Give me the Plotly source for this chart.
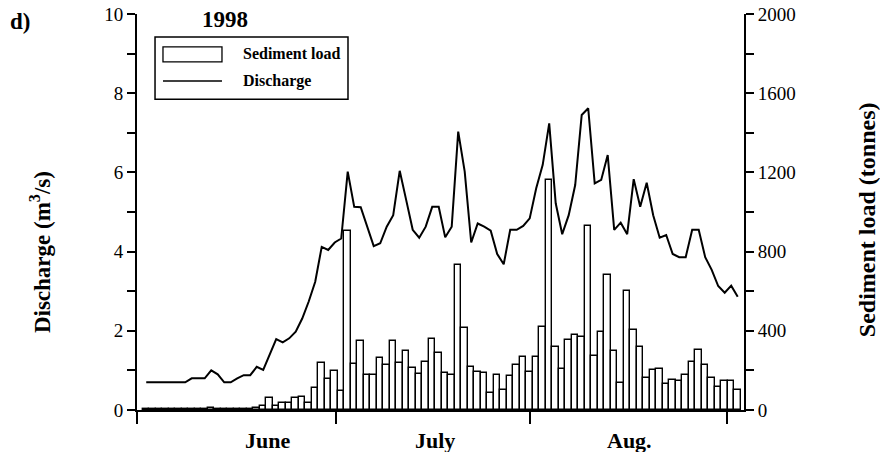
import plotly.graph_objects as go

# Day index (daily values, summer 1998)
days = list(range(92))

discharge = [0.70, 0.70, 0.70, 0.70, 0.70, 0.70, 0.70, 0.80, 0.80, 0.80,
             1.00, 0.90, 0.70, 0.70, 0.80, 0.88, 0.88, 1.09, 1.01, 1.39,
             1.79, 1.71, 1.81, 1.98, 2.31, 2.74, 3.24, 4.12, 4.04, 4.23,
             4.33, 6.02, 5.13, 5.12, 4.63, 4.14, 4.21, 4.63, 4.92, 6.04,
             5.30, 4.55, 4.35, 4.63, 5.13, 5.13, 4.36, 4.63, 7.03, 6.02,
             4.23, 4.71, 4.63, 4.53, 3.94, 3.68, 4.55, 4.55, 4.65, 4.84,
             5.60, 6.19, 7.24, 5.22, 4.44, 4.92, 5.68, 7.45, 7.62, 5.72,
             5.81, 6.44, 4.55, 4.73, 4.44, 5.83, 5.13, 5.74, 4.92, 4.35,
             4.42, 3.94, 3.86, 3.86, 4.55, 4.55, 3.86, 3.54, 3.13, 2.96,
             3.14, 2.86]

sediment = [4, 4, 4, 4, 4, 4, 4, 4, 4, 4,
            8, 4, 4, 4, 4, 4, 7, 9, 22, 59,
            20, 34, 34, 62, 67, 37, 109, 239, 157, 197,
            95, 902, 231, 349, 177, 177, 261, 227, 350, 239,
            296, 210, 182, 240, 358, 286, 185, 177, 732, 416,
            219, 190, 185, 88, 177, 101, 172, 227, 269, 194,
            269, 417, 1163, 320, 205, 354, 379, 367, 928, 273,
            396, 682, 300, 138, 603, 404, 320, 164, 204, 208,
            133, 152, 147, 175, 241, 305, 227, 160, 117, 146,
            146, 101]

month_labels = ["June", "July", "Aug."]
month_label_x = [18.6, 44.5, 74.3]
month_tick_x = [-1.38, 29.12, 59.08, 89.42]

FONT = "Liberation Serif"

fig = go.Figure()
fig.add_trace(go.Bar(
    x=days, y=sediment, yaxis="y", width=1.0,
    marker=dict(color="white", line=dict(color="black", width=1.4)),
    name="Sediment load", showlegend=False, hoverinfo="skip"))
fig.add_trace(go.Scatter(
    x=days, y=discharge, yaxis="y2", mode="lines",
    line=dict(color="black", width=2),
    name="Discharge", showlegend=False, hoverinfo="skip"))

axis_common = dict(showgrid=False, zeroline=False, showline=True,
                   linecolor="black", linewidth=2, ticks="outside",
                   tickcolor="black", tickwidth=1.5, automargin=False,
                   ticklabeloverflow="allow",
                   tickfont=dict(family=FONT, size=19, color="black"))

fig.update_layout(
    template="none",
    width=880, height=452,
    margin=dict(l=137, r=136, t=14, b=42, pad=0),
    paper_bgcolor="white", plot_bgcolor="white",
    bargap=0,
    xaxis=dict(range=[-1.42, 91.97], tickmode="array", tickvals=month_tick_x,
               showticklabels=False, ticklen=12, **axis_common),
    yaxis=dict(side="right", range=[0, 2000], tickmode="array",
               tickvals=[0, 400, 800, 1200, 1600, 2000], ticklen=8,
               minor=dict(ticks="outside", ticklen=8, dtick=200, tick0=0,
                          tickcolor="black", tickwidth=1.5),
               **axis_common),
    yaxis2=dict(side="left", overlaying="y", range=[0, 10], tickmode="array",
                tickvals=[0, 2, 4, 6, 8, 10], ticklen=8,
                minor=dict(ticks="outside", ticklen=8, dtick=1, tick0=0,
                           tickcolor="black", tickwidth=1.5),
                **axis_common),
)


def label(x, y, text, size, xref="paper", angle=0, xanchor="center"):
    return dict(x=x, y=y, xref=xref, yref="paper", text=text, textangle=angle,
                showarrow=False, xanchor=xanchor, yanchor="middle",
                font=dict(family=FONT, size=size, color="black"))


ann = [label(xpos, -0.078, "<b>%s</b>" % lab, 22, xref="x")
       for lab, xpos in zip(month_labels, month_label_x)]
ann += [
    label(-0.159, 0.40, "<b>Discharge (m<sup>3</sup>/s)</b>", 23, angle=-90),
    label(1.203, 0.48, "<b>Sediment load (tonnes)</b>", 24, angle=-90),
    label(-0.193, 0.98, "<b>d)</b>", 23),
    label(0.145, 0.985, "<b>1998</b>", 23),
    label(0.171, 0.899, "<b>Sediment load</b>", 16, xanchor="left"),
    label(0.171, 0.831, "<b>Discharge</b>", 16, xanchor="left"),
]
fig.update_layout(annotations=ann)

fig.update_layout(shapes=[
    dict(type="rect", xref="paper", yref="paper", x0=0.0297, x1=0.3476,
         y0=0.785, y1=0.942, line=dict(color="black", width=1.5), fillcolor="white",
         layer="above"),
    dict(type="rect", xref="paper", yref="paper", x0=0.0428, x1=0.1400,
         y0=0.879, y1=0.917, line=dict(color="black", width=1.3), fillcolor="white",
         layer="above"),
    dict(type="line", xref="paper", yref="paper", x0=0.0428, x1=0.1400,
         y0=0.831, y1=0.831, line=dict(color="black", width=1.5), layer="above"),
])

fig.write_html(
    "out.html",
    config={"displayModeBar": False},
    post_script="document.body.style.margin='0';document.body.style.overflow='hidden';",
)
